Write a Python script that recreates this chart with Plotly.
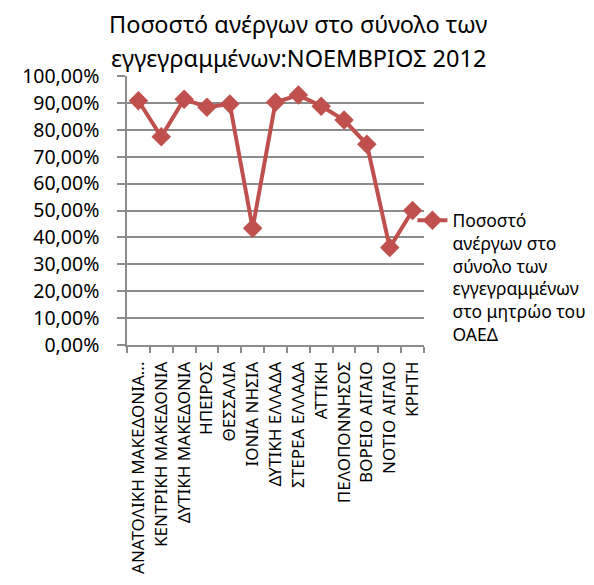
import plotly.graph_objects as go

categories = [
    "ΑΝΑΤΟΛΙΚΗ ΜΑΚΕΔΟΝΙΑ...",
    "ΚΕΝΤΡΙΚΗ ΜΑΚΕΔΟΝΙΑ",
    "ΔΥΤΙΚΗ ΜΑΚΕΔΟΝΙΑ",
    "ΗΠΕΙΡΟΣ",
    "ΘΕΣΣΑΛΙΑ",
    "ΙΟΝΙΑ ΝΗΣΙΑ",
    "ΔΥΤΙΚΗ ΕΛΛΑΔΑ",
    "ΣΤΕΡΕΑ ΕΛΛΑΔΑ",
    "ΑΤΤΙΚΗ",
    "ΠΕΛΟΠΟΝΝΗΣΟΣ",
    "ΒΟΡΕΙΟ ΑΙΓΑΙΟ",
    "ΝΟΤΙΟ ΑΙΓΑΙΟ",
    "ΚΡΗΤΗ",
]
values = [0.908, 0.774, 0.914, 0.884, 0.896, 0.434, 0.902, 0.929, 0.888, 0.836, 0.746, 0.362, 0.500]
series_name = "Ποσοστό<br>ανέργων στο<br>σύνολο των<br>εγγεγραμμένων<br>στο μητρώο του<br>ΟΑΕΔ"
title_lines = ["Ποσοστό ανέργων στο σύνολο των", "εγγεγραμμένων:ΝΟΕΜΒΡΙΟΣ 2012"]
y_ticks = [i / 10 for i in range(11)]

color = "#C0504D"
grid = "#8C8C8C"
font = "Noto Sans"

fig = go.Figure()
fig.add_trace(go.Scatter(
    x=categories, y=values, name=series_name, mode="lines+markers",
    line=dict(color=color, width=4),
    marker=dict(symbol="diamond", size=15, color=color),
    showlegend=True,
))

for txt, yy in zip(title_lines, [1.193, 1.067]):
    fig.add_annotation(text=txt, x=0.576, y=yy, xref="paper", yref="paper",
                       xanchor="center", yanchor="middle", showarrow=False,
                       font=dict(size=23.5, family=font, color="black"))

fig.update_layout(
    width=586, height=577,
    margin=dict(l=119, r=170, t=68, b=240, autoexpand=False),
    paper_bgcolor="white", plot_bgcolor="white",
    separators=",.",
    font=dict(family=font, color="black"),
    xaxis=dict(type="category", tickangle=-90, tickson="boundaries",
               ticks="outside", ticklen=6, tickcolor=grid, tickwidth=1.5,
               showline=True, linecolor=grid, linewidth=1.5,
               showgrid=False, tickfont=dict(size=17, family=font),
               ticklabelstandoff=8,
               range=[-0.5, 12.5], automargin=False),
    yaxis=dict(range=[0, 1], tickvals=y_ticks, tickformat=".2%",
               ticks="outside", ticklen=8, tickcolor=grid, tickwidth=1.5,
               showline=True, linecolor=grid, linewidth=1.5,
               showgrid=True, gridcolor=grid, gridwidth=1.5,
               tickfont=dict(size=19.5, family=font), ticklabelstandoff=14,
               zeroline=False, automargin=False),
    legend=dict(x=0.961, xanchor="left", y=0.53, yanchor="top",
                font=dict(size=17.5, family=font), valign="top",
                bgcolor="rgba(0,0,0,0)"),
)

fig.write_html("out.html")
